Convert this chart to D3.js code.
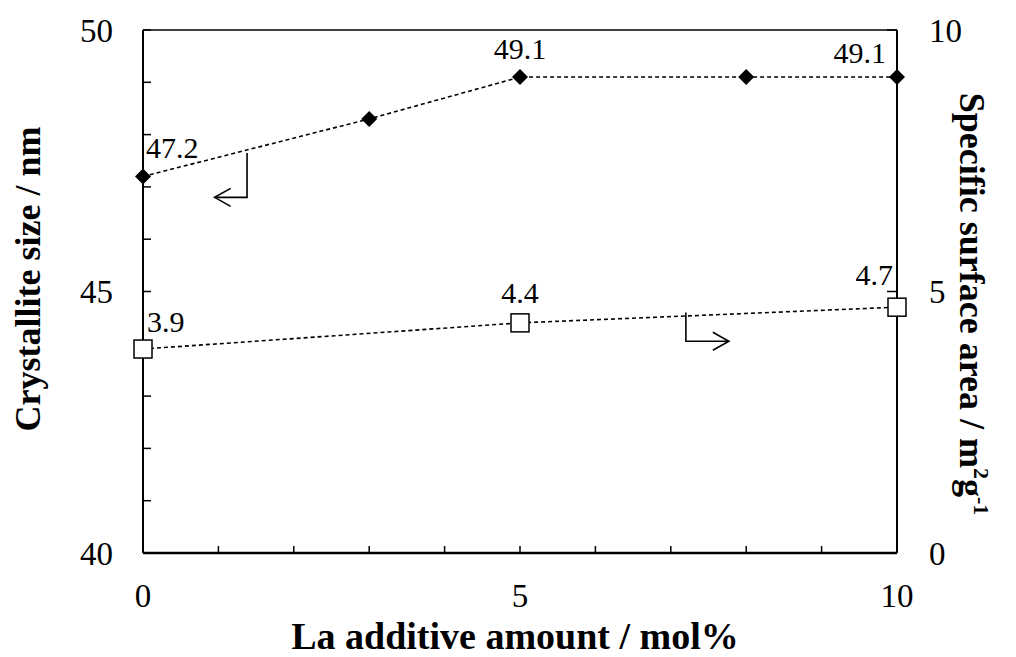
<!DOCTYPE html>
<html><head><meta charset="utf-8">
<script src="https://cdn.jsdelivr.net/npm/d3@7"></script>
<style>body{margin:0;background:#fff}svg{display:block}
svg text{font-family:"Liberation Serif","Times New Roman",Tinos,Times,"DejaVu Serif",serif;}
</style>
</head><body>
<script>
const laAmount = [0, 3, 5, 8, 10];
const crystalliteSize = [47.2, 48.3, 49.1, 49.1, 49.1];
const crystLabels = [{x:0, v:"47.2", a:"start"}, {x:5, v:"49.1", a:"middle"}, {x:10, v:"49.1", a:"end"}];
const surfaceX = [0, 5, 10];
const surfaceArea = [3.9, 4.4, 4.7];
const surfLabels = [{x:0, v:"3.9", a:"start"}, {x:5, v:"4.4", a:"middle"}, {x:10, v:"4.7", a:"end"}];
const xTicks = [0, 5, 10];
const leftTicks = [40, 45, 50];
const rightTicks = [0, 5, 10];

const W = 1016, H = 657;
const m = {l:143, r:897, t:30, b:553};
const svg = d3.select("body").append("svg").attr("width", W).attr("height", H);
const x = d3.scaleLinear().domain([0, 10]).range([m.l, m.r]);
const yL = d3.scaleLinear().domain([40, 50]).range([m.b, m.t]);
const yR = d3.scaleLinear().domain([0, 10]).range([m.b, m.t]);

// axes lines
const g = svg.append("g").attr("stroke", "#000").attr("fill", "none");
g.append("line").attr("x1", m.l).attr("x2", m.l).attr("y1", m.t).attr("y2", m.b).attr("stroke-width", 2);
g.append("line").attr("x1", m.r).attr("x2", m.r).attr("y1", m.t).attr("y2", m.b).attr("stroke-width", 2);
g.append("line").attr("x1", m.l).attr("x2", m.r).attr("y1", m.b).attr("y2", m.b).attr("stroke-width", 2.5);
g.append("line").attr("x1", m.l).attr("x2", m.r).attr("y1", m.t).attr("y2", m.t).attr("stroke-width", 1.5);

// left ticks (every 1, inward)
d3.range(41, 51).forEach(v => {
  g.append("line").attr("x1", m.l).attr("x2", m.l + 8).attr("y1", yL(v)).attr("y2", yL(v)).attr("stroke-width", 1.5);
});
// right ticks (5, 10)
[5, 10].forEach(v => {
  g.append("line").attr("x1", m.r).attr("x2", m.r - 10).attr("y1", yR(v)).attr("y2", yR(v)).attr("stroke-width", 1.5);
});
// x ticks (every 1, inward)
d3.range(1, 10).forEach(v => {
  g.append("line").attr("x1", x(v)).attr("x2", x(v)).attr("y1", m.b).attr("y2", m.b - 7).attr("stroke-width", 1.5);
});

// tick labels
const t = svg.append("g").attr("font-size", 33).attr("fill", "#000");
leftTicks.forEach(v => t.append("text").attr("x", 113).attr("y", yL(v)).attr("dy", "0.35em").attr("text-anchor", "end").text(v));
rightTicks.forEach(v => t.append("text").attr("x", 929).attr("y", yR(v)).attr("dy", "0.35em").attr("text-anchor", "start").text(v));
xTicks.forEach(v => t.append("text").attr("x", x(v)).attr("y", 607).attr("text-anchor", "middle").text(v));

// titles
svg.append("text").attr("font-weight", "bold").attr("font-size", 38)
  .attr("x", 515).attr("y", 649).attr("text-anchor", "middle").text("La additive amount / mol%");
svg.append("text").attr("font-weight", "bold").attr("font-size", 36)
  .attr("transform", "translate(40,279) rotate(-90)").attr("text-anchor", "middle").text("Crystallite size / nm");
const rt = svg.append("text").attr("font-weight", "bold").attr("font-size", 36)
  .attr("transform", "translate(960,304) rotate(90)").attr("text-anchor", "middle");
rt.append("tspan").text("Specific surface area / m");
rt.append("tspan").attr("font-size", 22).attr("dy", -14).text("2");
rt.append("tspan").attr("font-size", 36).attr("dy", 14).text("g");
rt.append("tspan").attr("font-size", 22).attr("dy", -14).text("-1");

// lines
const lineL = d3.line().x((d, i) => x(laAmount[i])).y(d => yL(d));
svg.append("path").datum(crystalliteSize).attr("d", lineL).attr("fill", "none")
  .attr("stroke", "#000").attr("stroke-width", 1.6).attr("stroke-dasharray", "4,3");
const lineR = d3.line().x((d, i) => x(surfaceX[i])).y(d => yR(d));
svg.append("path").datum(surfaceArea).attr("d", lineR).attr("fill", "none")
  .attr("stroke", "#000").attr("stroke-width", 1.6).attr("stroke-dasharray", "4,3");

// markers
svg.append("g").selectAll("path").data(crystalliteSize).join("path")
  .attr("transform", (d, i) => `translate(${x(laAmount[i])},${yL(d)})`)
  .attr("d", "M0,-8L8,0L0,8L-8,0Z").attr("fill", "#000");
svg.append("g").selectAll("rect").data(surfaceArea).join("rect")
  .attr("x", (d, i) => x(surfaceX[i]) - 9).attr("y", d => yR(d) - 9)
  .attr("width", 18).attr("height", 18).attr("fill", "#fff").attr("stroke", "#000").attr("stroke-width", 1.5);

// data labels
const dl = svg.append("g").attr("font-size", 30).attr("fill", "#000");
const cOff = {start: [3, -18], middle: [0, -18], end: [-11, -14]};
crystLabels.forEach((d) => {
  const v = crystalliteSize[laAmount.indexOf(d.x)];
  dl.append("text").attr("x", x(d.x) + cOff[d.a][0]).attr("y", yL(v) + cOff[d.a][1])
    .attr("text-anchor", d.a).text(d.v);
});
const sOff = {start: [4, -17], middle: [0, -20], end: [-4, -22]};
surfLabels.forEach((d, i) => {
  const v = surfaceArea[i];
  dl.append("text").attr("x", x(d.x) + sOff[d.a][0]).attr("y", yR(v) + sOff[d.a][1])
    .attr("text-anchor", d.a).text(d.v);
});

// arrows (annotation, in data coordinates)
const arrL = {x0: 1.38, y0: 47.65, y1: 46.8, x1: 0.95};
const arrR = {x0: 7.2, y0: 4.6, y1: 4.05, x1: 7.77};
const ag = svg.append("g").attr("stroke", "#000").attr("stroke-width", 1.6).attr("fill", "none");
ag.append("path").attr("d", `M${x(arrL.x0)},${yL(arrL.y0)}V${yL(arrL.y1)}H${x(arrL.x1)}`);
ag.append("path").attr("d", `M${x(arrL.x1)+16},${yL(arrL.y1)-9}L${x(arrL.x1)},${yL(arrL.y1)}L${x(arrL.x1)+16},${yL(arrL.y1)+9}`);
ag.append("path").attr("d", `M${x(arrR.x0)},${yR(arrR.y0)}V${yR(arrR.y1)}H${x(arrR.x1)}`);
ag.append("path").attr("d", `M${x(arrR.x1)-16},${yR(arrR.y1)-9}L${x(arrR.x1)},${yR(arrR.y1)}L${x(arrR.x1)-16},${yR(arrR.y1)+9}`);
</script>
</body></html>
